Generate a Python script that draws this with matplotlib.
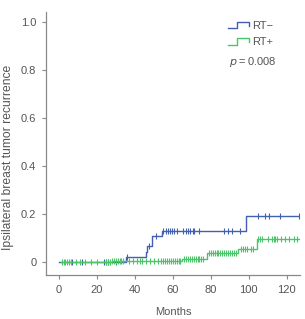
import numpy as np
import matplotlib
matplotlib.use('Agg')
import matplotlib.pyplot as plt
from matplotlib.lines import Line2D
from matplotlib.legend_handler import HandlerBase

plt.rcParams['font.family'] = ['Liberation Sans', 'DejaVu Sans']

# cumulative incidence steps (months, value)
rt_minus_t = [0, 35.4, 45.8, 46.6, 48.9, 54.2, 98.4, 126.5]
rt_minus_y = [0, 0.022, 0.043, 0.067, 0.107, 0.129, 0.19, 0.19]
rt_plus_t = [1.0, 28.0, 36.0, 64.7, 77.9, 94.5, 104.2, 126.5]
rt_plus_y = [0, 0.003, 0.005, 0.011, 0.039, 0.053, 0.095, 0.095]

# censored times
rt_minus_cens = [7, 12, 24, 25, 26, 30, 36, 47.5, 51, 55.1, 56.3, 57.4, 58.6, 59.6, 60.5,
                 62.1, 65.3, 67, 68.2, 69.3, 70.4, 71.2, 73.7, 86.7, 89.3, 91.4, 95.4,
                 105, 108.6, 110.4, 116.5, 126.5]
rt_plus_cens = [1.5, 2.5, 3.5, 4.5, 5.5, 6.5, 9, 11, 14, 17, 20, 25, 26, 27, 28, 29, 30,
                31, 32, 33, 34, 37, 39, 41, 43, 44, 46, 48, 50, 52, 54, 55, 56, 57, 58,
                59, 60, 61, 62, 63, 64, 66, 67, 68, 69, 70, 71, 72, 73, 74, 75, 76, 79,
                80, 81, 82, 83, 84, 85, 86, 87, 88, 89, 90, 91, 92, 93, 96, 97, 98, 99,
                101, 102, 105, 106, 107, 110, 112, 113, 114, 115, 117, 119, 121, 124, 125.5]

xticks = [0, 20, 40, 60, 80, 100, 120]
yticks = [0, 0.2, 0.4, 0.6, 0.8, 1.0]
ytick_labels = ['0', '0.2', '0.4', '0.6', '0.8', '1.0']

blue = '#4260ae'
green = '#4cc46a'
grey = '#555555'


def value_at(t, times, vals):
    idx = np.searchsorted(times, t, side='right') - 1
    return np.array(vals)[np.clip(idx, 0, None)]


class StepHandler(HandlerBase):
    def create_artists(self, legend, orig_handle, xdescent, ydescent, width, height, fontsize, trans):
        x0, w, h = -xdescent, width, height
        xs = [x0, x0 + 0.45 * w, x0 + 0.45 * w, x0 + w, x0 + w]
        ys = [0.05 * h, 0.05 * h, 0.95 * h, 0.95 * h, 0.4 * h]
        ln = Line2D(xs, ys, color=orig_handle.get_color(), lw=1.0, transform=trans)
        return [ln]


fig = plt.figure(figsize=(3.05, 3.19), dpi=100)
ax = fig.add_axes([0.151, 0.138, 0.833, 0.824])

ax.step(rt_minus_t, rt_minus_y, where='post', color=blue, lw=1.0, zorder=2)
ax.plot(rt_minus_cens, value_at(rt_minus_cens, rt_minus_t, rt_minus_y), ls='none',
        marker='|', ms=4, mew=0.8, color=blue, zorder=2)
ax.step(rt_plus_t, rt_plus_y, where='post', color=green, lw=1.0, zorder=3)
ax.plot(rt_plus_cens, value_at(rt_plus_cens, rt_plus_t, rt_plus_y), ls='none',
        marker='|', ms=4, mew=0.8, color=green, zorder=3)

ax.set_xlim(-6.7, 127)
ax.set_ylim(-0.054, 1.04)
ax.set_xticks(xticks)
ax.set_yticks(yticks)
ax.set_yticklabels(ytick_labels)
for s in ['top', 'right']:
    ax.spines[s].set_visible(False)
for s in ['left', 'bottom']:
    ax.spines[s].set_color('#888888')
    ax.spines[s].set_linewidth(0.9)
ax.tick_params(colors='#888888', labelcolor=grey, labelsize=8, length=3, width=0.8, pad=4)
ax.set_xlabel('Months', fontsize=8, color=grey, labelpad=9)
ax.set_ylabel('Ipsilateral breast tumor recurrence', fontsize=8.7, color=grey)
ax.yaxis.set_label_coords(-0.125, 0.449)

handles = [Line2D([], [], color=blue), Line2D([], [], color=green)]
leg = ax.legend(handles, ['RT\u2212', 'RT+'], loc='upper right', bbox_to_anchor=(0.935, 1.005),
                frameon=False, fontsize=8, handlelength=1.9, handleheight=0.6,
                handletextpad=0.35, labelspacing=0.55, handler_map={Line2D: StepHandler()})
for t in leg.get_texts():
    t.set_color(grey)
ax.text(0.815, 0.81, '$p$\u2009=\u20090.008', transform=ax.transAxes, ha='center', va='center',
        fontsize=8, color=grey)

fig.savefig('out.png', dpi=100)
